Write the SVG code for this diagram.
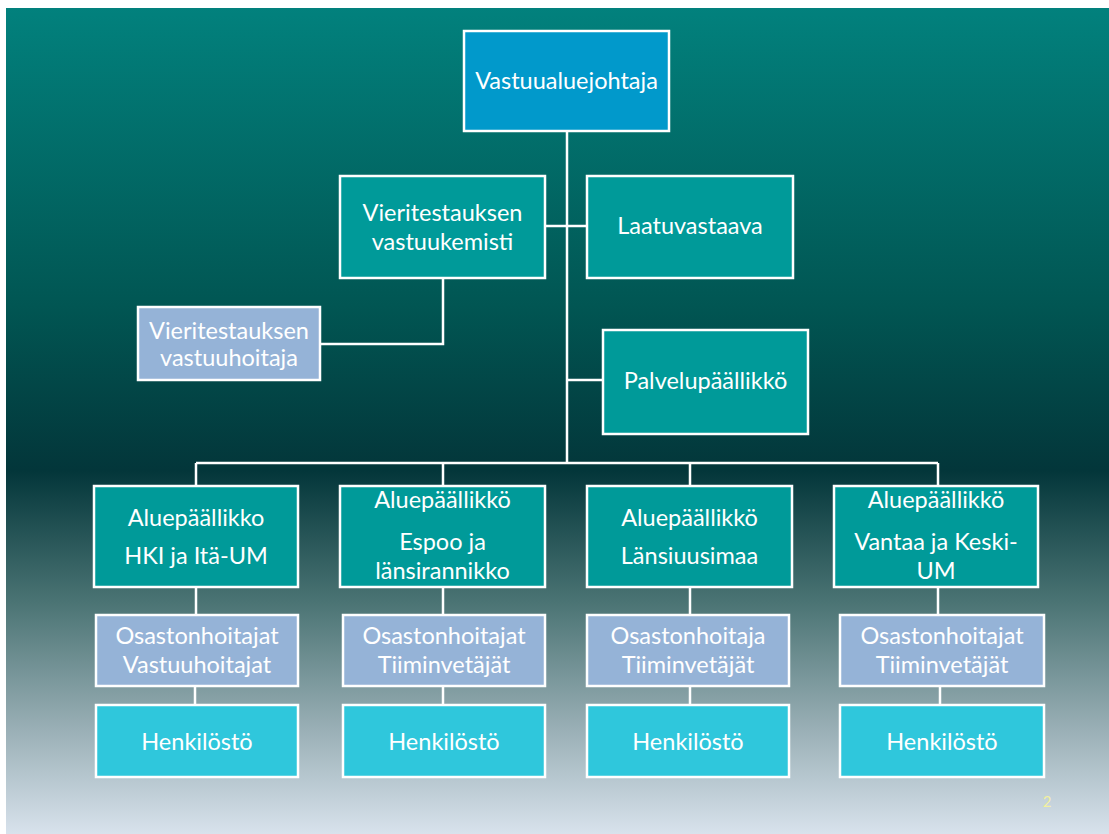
<svg xmlns="http://www.w3.org/2000/svg" width="1109" height="834" viewBox="0 0 1109 834">
<defs>
<linearGradient id="bg" x1="0" y1="0" x2="0" y2="1">
<stop offset="0" stop-color="#02817d"/>
<stop offset="0.36" stop-color="#015653"/>
<stop offset="0.56" stop-color="#03363a"/>
<stop offset="0.72" stop-color="#4b7474"/>
<stop offset="0.86" stop-color="#93aab0"/>
<stop offset="1" stop-color="#d8e2ec"/>
</linearGradient>
</defs>
<style>
.b{stroke:#ffffff;stroke-width:2.5}
.top{fill:#0199cb}
.teal{fill:#009a99}
.blue{fill:#95b3d7}
.cyan{fill:#2fc7dc}
text{font-family:Lato,"Open Sans","Liberation Sans",sans-serif;font-size:23.5px;fill:#ffffff;text-anchor:middle}
.c line,.c polyline{stroke:#ffffff;stroke-width:2.5;fill:none}
</style>
<rect x="0" y="0" width="1109" height="834" fill="#ffffff"/>
<rect x="6" y="8" width="1103" height="826" fill="url(#bg)"/>
<g class="c" id="connectors">
<line x1="567" y1="131" x2="567" y2="463"/>
<line x1="545" y1="226" x2="587" y2="226"/>
<line x1="567" y1="380" x2="603" y2="380"/>
<polyline points="443,278 443,344 320,344"/>
<line x1="196" y1="463" x2="938" y2="463"/>
<line x1="196" y1="463" x2="196" y2="486"/>
<line x1="443" y1="463" x2="443" y2="486"/>
<line x1="690" y1="463" x2="690" y2="486"/>
<line x1="938" y1="463" x2="938" y2="486"/>
<line x1="196" y1="587" x2="196" y2="615"/>
<line x1="443" y1="587" x2="443" y2="615"/>
<line x1="690" y1="587" x2="690" y2="615"/>
<line x1="938" y1="587" x2="938" y2="615"/>
<line x1="195" y1="686" x2="195" y2="705"/>
<line x1="443" y1="686" x2="443" y2="705"/>
<line x1="690" y1="686" x2="690" y2="705"/>
<line x1="940" y1="686" x2="940" y2="705"/>
</g>
<g id="n-vastuualuejohtaja"><rect class="b top" x="464" y="31" width="205" height="100"/><text x="566.5" y="89">Vastuualuejohtaja</text></g>
<g id="n-vastuukemisti"><rect class="b teal" x="340" y="176" width="205" height="102"/><text x="442.5" y="221">Vieritestauksen</text><text x="442.5" y="250">vastuukemisti</text></g>
<g id="n-laatuvastaava"><rect class="b teal" x="587" y="176" width="206" height="102"/><text x="690" y="234">Laatuvastaava</text></g>
<g id="n-vastuuhoitaja"><rect class="b blue" x="138" y="307" width="182" height="73"/><text x="229" y="339">Vieritestauksen</text><text x="229" y="366">vastuuhoitaja</text></g>
<g id="n-palvelupaallikko"><rect class="b teal" x="603" y="330" width="205" height="104"/><text x="705.5" y="389">Palvelupäällikkö</text></g>
<g id="n-alue1"><rect class="b teal" x="94" y="486" width="204" height="101"/><text x="196" y="526">Aluepäällikko</text><text x="196" y="564">HKI ja Itä-UM</text></g>
<g id="n-alue2"><rect class="b teal" x="340" y="486" width="205" height="101"/><text x="442.5" y="508">Aluepäällikkö</text><text x="442.5" y="550">Espoo ja</text><text x="442.5" y="579">länsirannikko</text></g>
<g id="n-alue3"><rect class="b teal" x="587" y="486" width="205" height="101"/><text x="689.5" y="526">Aluepäällikkö</text><text x="689.5" y="564">Länsiuusimaa</text></g>
<g id="n-alue4"><rect class="b teal" x="834" y="486" width="204" height="101"/><text x="936" y="508">Aluepäällikkö</text><text x="936" y="550">Vantaa ja Keski-</text><text x="936" y="579">UM</text></g>
<g id="n-osasto1"><rect class="b blue" x="96" y="615" width="202" height="71"/><text x="197" y="644">Osastonhoitajat</text><text x="197" y="673">Vastuuhoitajat</text></g>
<g id="n-osasto2"><rect class="b blue" x="343" y="615" width="202" height="71"/><text x="444" y="644">Osastonhoitajat</text><text x="444" y="673">Tiiminvetäjät</text></g>
<g id="n-osasto3"><rect class="b blue" x="587" y="615" width="202" height="71"/><text x="688" y="644">Osastonhoitaja</text><text x="688" y="673">Tiiminvetäjät</text></g>
<g id="n-osasto4"><rect class="b blue" x="840" y="615" width="204" height="71"/><text x="942" y="644">Osastonhoitajat</text><text x="942" y="673">Tiiminvetäjät</text></g>
<g id="n-henk1"><rect class="b cyan" x="96" y="705" width="202" height="72"/><text x="197" y="750">Henkilöstö</text></g>
<g id="n-henk2"><rect class="b cyan" x="343" y="705" width="202" height="72"/><text x="444" y="750">Henkilöstö</text></g>
<g id="n-henk3"><rect class="b cyan" x="587" y="705" width="202" height="72"/><text x="688" y="750">Henkilöstö</text></g>
<g id="n-henk4"><rect class="b cyan" x="840" y="705" width="204" height="72"/><text x="942" y="750">Henkilöstö</text></g>
<text x="1047" y="807" style="font-size:15px;fill:#f2f0a0">2</text>
</svg>
